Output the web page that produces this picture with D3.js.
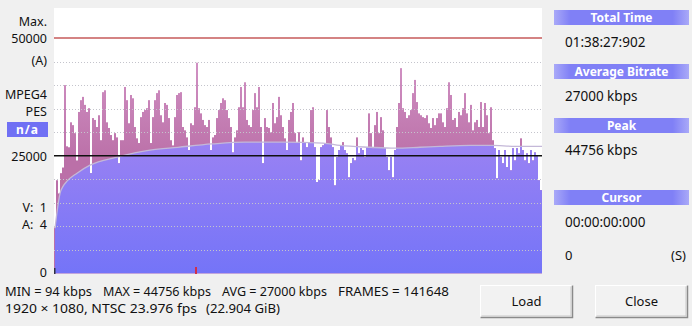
<!DOCTYPE html>
<html>
<head>
<meta charset="utf-8">
<script src="https://cdn.jsdelivr.net/npm/d3@7"></script>
<style>
    body { margin: 0; background: #f0f0f0; }
    #chart { width: 692px; height: 326px; }
    text { font-family: "Noto Sans", "DejaVu Sans", sans-serif; }
</style>
</head>
<body>
<div id="chart"></div>
<script>

// bitrate per slice (kbps) left to right
let bitrate = [
    9800, 19800, 17000, 21300, 22500, 40000, 27000, 26800, 32100, 31500,
    29800, 24000, 34300, 36800, 37500, 35800, 34300, 35100, 21300, 33000,
    32600, 31100, 33600, 28300, 38500, 38900, 32100, 30900, 29400, 28300,
    29800, 28900, 23400, 28300, 28300, 39600, 36800, 31900, 37900, 37200,
    31100, 28700, 27700, 33200, 34300, 34700, 35100, 36800, 27700, 33200,
    36800, 38300, 38900, 33600, 32100, 36200, 35800, 33000, 28300, 27200,
    33200, 37900, 38300, 38500, 31100, 30400, 28900, 26200, 31900, 31500,
    35300, 44756, 35100, 34000, 32600, 31500, 31100, 32600, 26200, 28900,
    29400, 33000, 34700, 36200, 37200, 36800, 34700, 33000, 31100, 25700,
    28900, 30400, 35300, 39600, 35300, 40600, 32600, 31500, 31100, 34700,
    38300, 35300, 39600, 31100, 23400, 33000, 31100, 30900, 30000, 36200,
    31900, 33200, 37500, 33600, 31100, 28700, 26200, 32600, 34300, 36200,
    29800, 27700, 30000, 24000, 28900, 27900, 26800, 27700, 34700, 35300,
    26800, 19400, 19800, 26800, 27200, 27700, 34700, 31100, 28900, 26800,
    18700, 24700, 26200, 27200, 27900, 26200, 25500, 20400, 23400, 24500,
    24000, 28900, 25500, 26600, 26200, 24700, 26800, 34000, 29800, 26600,
    31500, 34300, 29800, 33200, 30400, 26600, 24700, 21900, 24700, 20400,
    26200, 31100, 36200, 43600, 35100, 34300, 33000, 33600, 34700, 38300,
    41100, 36400, 34000, 33600, 33200, 33000, 33600, 31900, 30900, 33000,
    31500, 33000, 34000, 34000, 32100, 31100, 35100, 40600, 37900, 32600,
    33000, 31100, 34300, 33600, 35100, 38300, 34000, 32100, 35800, 30400,
    32100, 32600, 31100, 36400, 31100, 36200, 33600, 29800, 35300, 28300,
    26600, 20200, 26200, 24700, 23400, 26200, 22600, 25100, 21900, 26600,
    24000, 26600, 25500, 28700, 26200, 24000, 25500, 23400, 26200, 24000,
    25700, 25100, 19800, 17700
];

// running average, sampled at slice positions
let avgPos = [0.5, 1.5, 3, 4.5, 6.5, 11.5, 18, 31.5, 48, 62, 79, 95.5, 114.5, 134.5, 143, 158, 170.5, 183, 193, 208, 219, 230.5, 244];
let avgRate = [9600, 13000, 17000, 18500, 19600, 21300, 23000, 24700, 26200, 26800, 27500, 27900, 27900, 27700, 27200, 26800, 26600, 26800, 27000, 27200, 27200, 27000, 27000];

let gridTicks = [5000, 10000, 15000, 20000, 30000, 35000, 40000, 45000];
let avgLevel = 25000;
let maxLevel = 50000;
let cursorPos = 71;

let leftLabels = ["Max.", "50000", "(A)", "MPEG4", "PES", "25000", "V:\u00a0\u00a01", "A:\u00a0\u00a04", "0"];
let statLine1 = ["MIN = 94 kbps", "MAX = 44756 kbps", "AVG = 27000 kbps", "FRAMES = 141648"];
let statLine2 = ["1920 \u00d7 1080, NTSC 23.976 fps", "(22.904 GiB)"];

let panelTitles = ["Total Time", "Average Bitrate", "Peak", "Cursor"];
let panelValues = ["01:38:27:902", "27000 kbps", "44756 kbps", "00:00:00:000"];
let buttonLabels = ["Load", "Close"];

// layout
let margin = {left: 54, right: 542, top: 8, bottom: 274};
let leftLabelY = [26, 43, 65, 99, 116, 161, 212, 229, 277];
let stat1Layout = [[5, 87], [103, 108], [222, 105], [338, 111]];
let stat2Layout = [[5, 192], [206, 74]];
let panelY = [10, 64, 118, 190];
let buttonX = [480, 595];

let svg = d3.select("#chart").append("svg")
    .attr("width", 692)
    .attr("height", 326);

let defs = svg.append("defs");

// purple fill gradient
let purple = defs.append("linearGradient")
    .attr("id", "purpleFill")
    .attr("gradientUnits", "userSpaceOnUse")
    .attr("x1", 0).attr("x2", 0)
    .attr("y1", 120).attr("y2", 274);
purple.append("stop").attr("offset", 0).attr("stop-color", "#a084f2");
purple.append("stop").attr("offset", 1).attr("stop-color", "#7474f8");

let pink = defs.append("linearGradient")
    .attr("id", "pinkFill")
    .attr("gradientUnits", "userSpaceOnUse")
    .attr("x1", 0).attr("x2", 0)
    .attr("y1", 60).attr("y2", 160);
pink.append("stop").attr("offset", 0).attr("stop-color", "#d192c4");
pink.append("stop").attr("offset", 1).attr("stop-color", "#bb70a8");

let header = defs.append("linearGradient")
    .attr("id", "headerFill")
    .attr("x1", 0).attr("x2", 1).attr("y1", 0).attr("y2", 0);
header.append("stop").attr("offset", 0).attr("stop-color", "#a9a9f8");
header.append("stop").attr("offset", 0.12).attr("stop-color", "#8080f6");
header.append("stop").attr("offset", 0.88).attr("stop-color", "#8080f6");
header.append("stop").attr("offset", 1).attr("stop-color", "#a9a9f8");

// scales
let x = d3.scaleLinear()
    .domain([0, bitrate.length])
    .range([margin.left, margin.right]);

let y = d3.scaleLinear()
    .domain([0, maxLevel])
    .range([273.5, 38]);

// plot background
svg.append("rect")
    .attr("x", margin.left)
    .attr("y", margin.top)
    .attr("width", margin.right - margin.left)
    .attr("height", margin.bottom - margin.top)
    .attr("fill", "#ffffff");

// bars (pink part shows where bitrate is above the running average)
let barWidth = x(1) - x(0);

svg.append("g").selectAll("rect")
    .data(bitrate)
    .enter().append("rect")
    .attr("x", (d, i) => x(i))
    .attr("y", d => y(d))
    .attr("width", barWidth)
    .attr("height", d => y(0) - y(d))
    .attr("fill", "url(#pinkFill)");

let clip = defs.append("clipPath").attr("id", "barClip");
clip.selectAll("rect")
    .data(bitrate)
    .enter().append("rect")
    .attr("x", (d, i) => x(i))
    .attr("y", d => y(d))
    .attr("width", barWidth)
    .attr("height", d => y(0) - y(d));

let avgData = avgPos.map((p, i) => ({pos: p, rate: avgRate[i]}));

let area = d3.area()
    .x(d => x(d.pos))
    .y0(y(0))
    .y1(d => y(d.rate))
    .curve(d3.curveMonotoneX);

svg.append("path")
    .datum(avgData)
    .attr("d", area)
    .attr("fill", "url(#purpleFill)")
    .attr("clip-path", "url(#barClip)");

let line = d3.line()
    .x(d => x(d.pos))
    .y(d => y(d.rate))
    .curve(d3.curveMonotoneX);

svg.append("path")
    .datum(avgData)
    .attr("d", line)
    .attr("fill", "none")
    .attr("stroke", "#c4b8d8")
    .attr("stroke-width", 1.3);

// dotted grid
svg.append("g").selectAll("line")
    .data(gridTicks)
    .enter().append("line")
    .attr("x1", margin.left)
    .attr("x2", margin.right)
    .attr("y1", d => Math.round(y(d)) + 0.5)
    .attr("y2", d => Math.round(y(d)) + 0.5)
    .attr("stroke", "#c4c4cc")
    .attr("stroke-dasharray", "1,2");

svg.append("line")
    .attr("x1", margin.left).attr("x2", margin.right)
    .attr("y1", y(avgLevel)).attr("y2", y(avgLevel))
    .attr("stroke", "#101010")
    .attr("stroke-width", 1.6);

svg.append("line")
    .attr("x1", margin.left).attr("x2", margin.right)
    .attr("y1", y(maxLevel)).attr("y2", y(maxLevel))
    .attr("stroke", "#c65a5a")
    .attr("stroke-width", 1.6);

// cursor marker
svg.append("rect")
    .attr("x", x(cursorPos) - 1)
    .attr("y", 267)
    .attr("width", 2)
    .attr("height", 7)
    .attr("fill", "#d0304a");

svg.append("rect")
    .attr("x", margin.left)
    .attr("y", 268)
    .attr("width", 1.5)
    .attr("height", 6)
    .attr("fill", "#303040");

// left labels
svg.append("g").selectAll("text")
    .data(leftLabels)
    .enter().append("text")
    .attr("x", 47)
    .attr("y", (d, i) => leftLabelY[i])
    .attr("text-anchor", "end")
    .attr("font-size", "12.5px")
    .attr("fill", "#111")
    .text(d => d);

svg.append("rect")
    .attr("x", 7).attr("y", 122)
    .attr("width", 41).attr("height", 15)
    .attr("fill", "#7070f4");

svg.append("text")
    .attr("x", 27.5).attr("y", 134)
    .attr("text-anchor", "middle")
    .attr("font-size", "12px")
    .attr("font-weight", "bold")
    .attr("letter-spacing", "1px")
    .attr("fill", "#ffffff")
    .text("n/a");

// stats below plot
function statRow(texts, layout, baseline) {
    svg.append("g").selectAll("text")
        .data(texts)
        .enter().append("text")
        .attr("x", (d, i) => layout[i][0])
        .attr("y", baseline)
        .attr("textLength", (d, i) => layout[i][1])
        .attr("lengthAdjust", "spacingAndGlyphs")
        .attr("font-size", "12.5px")
        .attr("fill", "#111")
        .text(d => d);
}
statRow(statLine1, stat1Layout, 296);
statRow(statLine2, stat2Layout, 313);

// right panel
let panel = svg.append("g").selectAll("g")
    .data(panelTitles)
    .enter().append("g");

panel.append("rect")
    .attr("x", 554)
    .attr("y", (d, i) => panelY[i])
    .attr("width", 135)
    .attr("height", 15)
    .attr("fill", "url(#headerFill)");

panel.append("text")
    .attr("x", 621.5)
    .attr("y", (d, i) => panelY[i] + 12)
    .attr("text-anchor", "middle")
    .attr("font-size", "12px")
    .attr("font-weight", "bold")
    .attr("fill", "#ffffff")
    .text(d => d);

panel.append("text")
    .attr("x", 565)
    .attr("y", (d, i) => panelY[i] + 37)
    .attr("font-size", "13.5px")
    .attr("fill", "#111")
    .text((d, i) => panelValues[i]);

svg.append("text")
    .attr("x", 565).attr("y", 260)
    .attr("font-size", "13px")
    .attr("fill", "#111")
    .text("0");

svg.append("text")
    .attr("x", 686).attr("y", 260)
    .attr("text-anchor", "end")
    .attr("font-size", "13px")
    .attr("fill", "#111")
    .text("(S)");

// buttons
let btn = svg.append("g").selectAll("g")
    .data(buttonLabels)
    .enter().append("g")
    .attr("transform", (d, i) => `translate(${buttonX[i]}, 285)`);

btn.append("rect")
    .attr("x", 0.5).attr("y", 0.5)
    .attr("width", 92).attr("height", 32)
    .attr("fill", "#f2f2f2")
    .attr("stroke", "#ffffff");

btn.append("path")
    .attr("d", "M0.5,32.5 H92.5 V0.5")
    .attr("fill", "none")
    .attr("stroke", "#8a8a8a")
    .attr("stroke-width", 1.5);

btn.append("path")
    .attr("d", "M1.5,31 H91 V1.5")
    .attr("fill", "none")
    .attr("stroke", "#c8c8c8");

btn.append("text")
    .attr("x", 46.5).attr("y", 21)
    .attr("text-anchor", "middle")
    .attr("font-size", "13px")
    .attr("fill", "#111")
    .text(d => d);

</script>
</body>
</html>
